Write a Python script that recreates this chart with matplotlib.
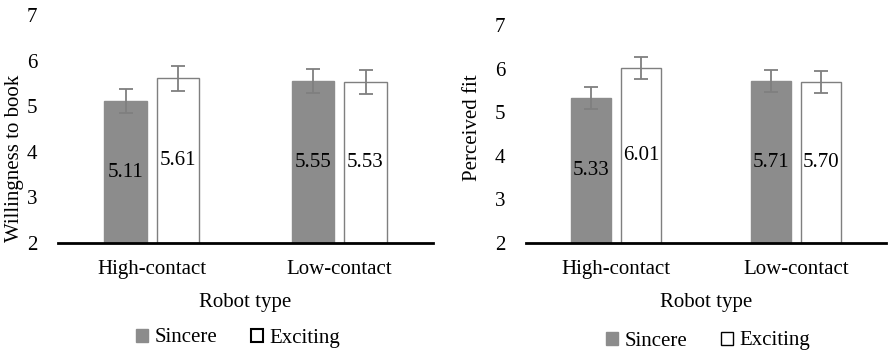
import matplotlib
matplotlib.use('Agg')
import matplotlib.pyplot as plt
from matplotlib.patches import Patch
import numpy as np


plt.rcParams['font.family'] = 'Liberation Serif'
FS = 15


categories = ['High-contact', 'Low-contact']
series = ['Sincere', 'Exciting']

wtb_sincere = [5.11, 5.55]
wtb_exciting = [5.61, 5.53]
wtb_sincere_err = [0.27, 0.26]
wtb_exciting_err = [0.27, 0.27]

fit_sincere = [5.33, 5.71]
fit_exciting = [6.01, 5.70]
fit_sincere_err = [0.25, 0.25]
fit_exciting_err = [0.25, 0.25]

GREY = '#8c8c8c'
EDGE = '#7f7f7f'


def panel(ax, sinc, exc, sinc_err, exc_err, ylabel, lab_xy, top):

	x = np.arange(len(categories))
	w = 0.225
	off = 0.14

	ax.bar(x - off, [v - 2 for v in sinc], w, bottom=2, color=GREY, edgecolor=GREY)
	ax.bar(x + off, [v - 2 for v in exc], w, bottom=2, color='white', edgecolor=EDGE, linewidth=1)
	ax.errorbar(x - off, sinc, yerr=sinc_err, fmt='none', ecolor=EDGE, elinewidth=1.3, capsize=5, capthick=1.3)
	ax.errorbar(x + off, exc, yerr=exc_err, fmt='none', ecolor=EDGE, elinewidth=1.3, capsize=5, capthick=1.3)

	for i in range(len(x)):
		ax.text(x[i] - off, (2 + sinc[i]) / 2, '%.2f' % sinc[i], ha='center', va='center', fontsize=FS)
		ax.text(x[i] + off, (2 + exc[i]) / 2, '%.2f' % exc[i], ha='center', va='center', fontsize=FS)

	ax.set_xlim(-0.5, 1.5)
	ax.set_ylim(2, top)
	ax.set_yticks([2, 3, 4, 5, 6, 7])
	ax.set_xticks(x)
	ax.set_xticklabels(categories, fontsize=FS)
	ax.tick_params(axis='y', length=0, pad=15, labelsize=FS)
	ax.tick_params(axis='x', length=0, pad=12)
	for s in ['top', 'right', 'left']:
		ax.spines[s].set_visible(False)
	ax.spines['bottom'].set_linewidth(2)
	ax.set_xlabel('Robot type', fontsize=FS, labelpad=10)
	ax.set_ylabel(ylabel, fontsize=FS)
	ax.yaxis.set_label_coords(lab_xy[0], lab_xy[1])


fig = plt.figure(figsize=(8.89, 3.54), dpi=100)

ax1 = fig.add_axes([58 / 889, 111 / 354, 375 / 889, 228 / 354])
ax2 = fig.add_axes([526 / 889, 111 / 354, 360 / 889, 218 / 354])

panel(ax1, wtb_sincere, wtb_exciting, wtb_sincere_err, wtb_exciting_err, 'Willingness to book', (-0.09, 0.37), 7)
panel(ax2, fit_sincere, fit_exciting, fit_sincere_err, fit_exciting_err, 'Perceived fit', (-0.122, 0.53), 7)

hnd = [Patch(facecolor=GREY, edgecolor=GREY), Patch(facecolor='white', edgecolor='black', linewidth=1.5)]

fig.legend(hnd, series, loc='center', bbox_to_anchor=(238 / 889, 1 - 338 / 354), ncol=2, frameon=False,
	fontsize=FS, handlelength=0.6, handleheight=0.6, handletextpad=0.3, columnspacing=1.6)
hnd2 = [Patch(facecolor=GREY, edgecolor=GREY), Patch(facecolor='white', edgecolor='black', linewidth=1)]
fig.legend(hnd2, series, loc='center', bbox_to_anchor=(708 / 889, 1 - 341 / 354), ncol=2, frameon=False,
	fontsize=FS, handlelength=0.6, handleheight=0.6, handletextpad=0.3, columnspacing=1.6)

plt.savefig('out.png', dpi=100)
